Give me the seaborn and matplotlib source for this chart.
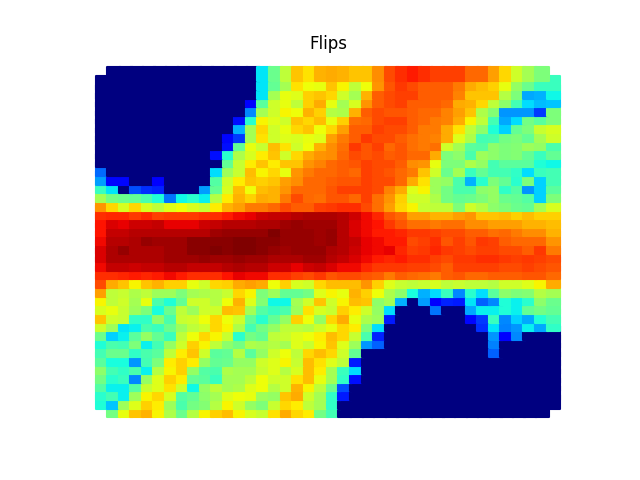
import numpy as np
import pandas as pd
import matplotlib
matplotlib.use("Agg")
import matplotlib.pyplot as plt
import seaborn as sns

N = np.nan
# Colour position on the jet scale (0-100), rows listed from the top of the picture
r00 = [N] + [0]*13 + [35,48,58,70,67,72, 73,72,70,70,76,83,86,88,86,84,84,84,80,80,74,68,60,55,50,N]
r01 = [0]*14 + [35,47,55,67,64,63, 70,65,58,64,75,82,85,83,81,81,81,78,73,71,69,63,53,48,42,42]
r02 = [0]*14 + [35,55,63,62,69,70, 68,60,55,72,81,83,84,84,81,81,81,77,70,70,70,57,50,29,30,37]
r03 = [0]*13 + [12,46,60,63,58,69,73, 63,55,61,75,81,83,84,81,81,81,80,73,72,68,58,52,43,34,31,32]
r04 = [0]*13 + [26,55,60,65,64,72,69, 57,56,72,81,83,82,82,81,80,80,77,74,70,56,51,27,27,27,18,50]
r05 = [0]*12 + [14,40,65,62,60,70,68,71, 63,69,79,80,83,84,84,81,80,78,77,73,65,58,43,29,34,49,46,50]
r06 = [0]*12 + [30,55,68,60,63,68,70,64, 68,74,81,81,84,83,83,81,78,78,73,67,58,52,39,33,47,50,59,61]
r07 = [0]*11 + [13,18,55,67,60,62,61,63,62, 74,78,81,85,83,83,81,79,78,77,73,62,56,43,44,49,50,47,55,60]
r08 = [0]*11 + [14,47,63,59,71,67,60,64,72, 76,79,85,82,84,80,82,79,78,79,60,55,46,45,52,50,51,54,53,44]
r09 = [0]*10 + [14,40,56,61,66,70,60,68,73,75, 76,80,83,82,83,81,82,80,80,73,50,52,44,54,52,50,51,47,42,47]
r10 = [0]*11 + [47,59,66,70,66,70,70,75,77, 80,81,82,84,83,83,81,76,75,63,50,50,56,53,43,46,46,46,39,37]
r11 = [23] + [0]*9 + [34,54,59,71,65,68,63,75,78,80, 80,81,80,84,83,82,80,78,70,60,48,55,42,47,43,43,41,34,42,43]
r12 = [28,13,13,0,0,12,0,0,0,0,45,60,66,70,69,70,74,76,80,80, 81,82,82,84,83,83,80,73,67,54,53,44,30,40,50,47,40,50,33,43]
r13 = [42,35,0,20,17,16,0,0,0,28,47,61,71,64,71,72,75,80,80,80, 82,84,84,84,83,77,73,62,65,54,49,44,44,52,53,41,45,27,33,46]
r14 = [55,49,48,47,44,39,24,37,40,36,57,66,72,69,73,72,78,83,80,79, 82,82,80,84,79,75,69,60,60,56,49,47,48,50,53,48,47,45,33,50]
r15 = [75,68,61,68,61,58,62,64,61,59,66,72,74,78,78,80,83,81,81,84, 85,86,86,83,79,74,68,65,59,58,58,50,60,57,52,50,48,47,55,61]
r16 = [86,87,87,85,87,84,85,85,85,86,86,88,90,91,93,94,94,95,96,96, 96,95,93,90,87,82,80,74,74,72,72,74,75,70,70,71,69,71,69,69]
r17 = [89,92,91,93,93,94,91,91,91,93,94,95,95,95,96,96,97,98,97,97, 97,95,92,90,89,85,82,79,79,78,79,79,76,76,74,74,74,72,72,71]
r18 = [89,94,94,95,95,95,95,95,95,95,97,98,98,98,98,100,98,98,98,97, 98,95,92,90,88,88,87,85,85,84,83,83,81,81,79,80,78,76,76,72]
r19 = [90,95,95,96,98,97,97,97,99,99,99,99,100,100,99,99,98,98,98,97, 98,95,94,91,90,88,88,83,84,86,82,84,82,85,84,81,80,80,80,75]
r20 = [92,96,98,96,96,96,97,97,99,99,100,99,100,100,99,98,97,98,98,98, 96,95,93,91,90,91,87,84,85,87,85,84,83,84,84,83,83,81,85,78]
r21 = [92,96,96,96,96,96,97,97,97,98,97,97,98,97,97,96,96,96,97,97, 95,94,92,90,88,87,88,86,86,84,83,85,85,86,86,85,84,85,84,83]
r22 = [90,94,94,93,94,94,95,95,94,94,94,95,96,95,95,93,93,91,93,94, 92,90,90,87,85,85,85,84,84,83,81,84,84,84,84,83,83,84,83,82]
r23 = [86,86,87,88,87,88,90,88,86,86,86,89,91,90,90,86,86,84,83,85, 82,83,83,82,81,78,81,80,79,78,81,82,80,80,81,81,81,82,82,80]
r24 = [83,73,70,65,70,72,69,69,63,60,68,69,73,74,73,64,69,61,60,68, 71,71,71,75,69,62,59,58,59,61,58,59,58,58,57,60,60,62,65,73]
r25 = [74,58,59,56,58,54,54,50,55,56,57,59,68,65,50,54,47,47,49,62, 65,63,72,69,64,56,52,38,30,34,42,26,40,34,46,52,50,51,57,55]
r26 = [65,58,60,55,63,44,39,47,60,60,57,64,72,62,51,37,37,55,60,70, 60,65,71,70,52,55,30,0,28,11,16,15,35,22,26,39,36,40,52,48]
r27 = [61,63,59,54,50,38,48,58,54,60,60,71,70,55,45,42,44,54,67,61, 59,69,66,60,53,34,0,0,0,24,0,0,29,36,36,39,36,47,49,47]
r28 = [70,60,59,41,41,52,44,59,60,64,68,64,60,47,40,47,53,69,64,53, 68,73,63,56,54,15,0,0,0,0,0,0,13,18,42,26,33,29,39,43]
r29 = [60,54,35,36,44,42,48,54,58,60,68,65,56,43,49,53,58,58,57,60, 63,68,66,50,34,0,0,0,0,0,0,0,0,17,35,25,27,36,29,41]
r30 = [48,33,36,46,53,47,42,58,64,68,65,59,40,49,47,58,59,62,64,66, 71,68,59,44,16,0,0,0,0,0,0,0,0,0,27,12,26,0,0,0]
r31 = [39,44,43,50,36,43,53,60,69,65,58,52,49,56,55,57,55,62,59,65, 70,62,54,27,22,0,0,0,0,0,0,0,0,0,25,0,0,0,0,0]
r32 = [43,48,48,41,44,46,58,66,70,60,46,47,57,46,53,60,64,58,68,71, 68,60,47,0,0,0,0,0,0,0,0,0,0,0,22,0,0,0,0,0]
r33 = [46,38,38,27,43,50,66,69,66,53,47,48,53,53,60,62,65,59,71,67, 62,58,15] + [0]*17
r34 = [52,43,41,44,36,57,65,69,53,45,44,56,55,55,59,62,57,61,71,66, 55,42,34] + [0]*17
r35 = [49,40,42,26,53,62,69,66,47,46,42,55,55,58,64,60,60,67,71,63, 55,41,14] + [0]*17
r36 = [45,36,36,45,59,62,67,60,37,53,58,55,56,62,64,57,60,72,65,58, 48,20] + [0]*18
r37 = [40,43,36,54,65,68,61,45,47,52,55,62,64,63,54,53,70,73,60,55, 41,15] + [0]*18
r38 = [39,32,54,62,69,66,54,44,49,51,57,65,60,53,50,59,68,66,58,55, 41] + [0]*19
r39 = [N,49,63,70,72,65,56,48,57,65,69,71,65,61,59,67,73,68,66,49, 43] + [0]*18 + [N]

rows_top_down = [r00,r01,r02,r03,r04,r05,r06,r07,r08,r09,r10,r11,r12,r13,r14,r15,r16,r17,r18,r19,
                 r20,r21,r22,r23,r24,r25,r26,r27,r28,r29,r30,r31,r32,r33,r34,r35,r36,r37,r38,r39]
title = "Flips"

# Long table: bottom row first, left to right, so upper rows overlap lower ones
records = []
for k, row in enumerate(rows_top_down):
    assert len(row) == 40, (k, len(row))
for k in range(39, -1, -1):
    for j, v in enumerate(rows_top_down[k]):
        records.append((j, 39 - k, v))
df = pd.DataFrame(records, columns=["col", "row", "flips"]).dropna()

fig, ax = plt.subplots(figsize=(6.4, 4.8), dpi=100)
sns.scatterplot(data=df, x="col", y="row", hue="flips", palette=matplotlib.colormaps["jet"],
                hue_norm=(0, 100), marker="s", s=100, linewidth=1.5, edgecolor="face",
                legend=False, ax=ax)
ax.set_title(title)
ax.axis("off")
fig.savefig("out.png", dpi=100)
